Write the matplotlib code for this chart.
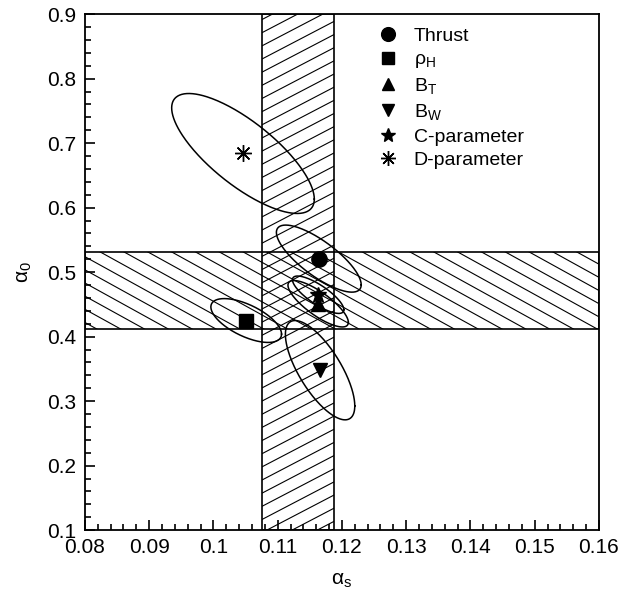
import numpy as np
import matplotlib
matplotlib.use("Agg")
import matplotlib.pyplot as plt
from matplotlib.collections import LineCollection
from matplotlib.ticker import MultipleLocator

plt.rcParams['font.family'] = 'Liberation Sans'
plt.rcParams['font.size'] = 14
plt.rcParams['mathtext.fontset'] = 'custom'
plt.rcParams['mathtext.rm'] = 'Liberation Sans'
plt.rcParams['mathtext.it'] = 'Liberation Sans:italic'

# fit results: alpha_s, alpha_0, errors and correlation of the 1-sigma contours
labels = ['Thrust', r'$\mathrm{\rho_H}$', r'$\mathrm{B_T}$', r'$\mathrm{B_W}$',
          'C-parameter', 'D-parameter']
markers = ['o', 's', '^', 'v', '*', (8, 2, 0)]
alpha_s = [0.1164, 0.1051, 0.1163, 0.1166, 0.1163, 0.1046]
alpha_0 = [0.521, 0.425, 0.451, 0.348, 0.465, 0.684]
err_s = [0.0066, 0.0055, 0.0047, 0.0054, 0.0040, 0.0111]
err_0 = [0.052, 0.034, 0.036, 0.077, 0.029, 0.093]
corr = [-0.78, -0.62, -0.80, -0.72, -0.80, -0.76]

# world averages (hatched bands)
band_s = [0.1075, 0.1188]
band_0 = [0.412, 0.532]


def hatch_band(ax, patch, slope):
    # diagonal hatch lines drawn in axes coords, clipped to the band
    segs = []
    for c in np.arange(-1.0, 2.0, 0.0255):
        segs.append([(0, c), (1, c + slope)])
    lc = LineCollection(segs, colors='k', linewidths=0.8, transform=ax.transAxes)
    ax.add_collection(lc)
    lc.set_clip_path(patch)


fig, ax = plt.subplots(figsize=(6.2, 5.91), dpi=100)
fig.subplots_adjust(left=0.137, right=0.966, top=0.976, bottom=0.103)

vb = ax.axvspan(band_s[0], band_s[1], fill=False, edgecolor='k', lw=1.2)
hb = ax.axhspan(band_0[0], band_0[1], fill=False, edgecolor='k', lw=1.2)
hatch_band(ax, vb, 0.52)
hatch_band(ax, hb, -0.55)

t = np.linspace(0, 2 * np.pi, 300)
for i in range(len(labels)):
    phi = np.arccos(corr[i])
    ex = alpha_s[i] + err_s[i] * np.cos(t)
    ey = alpha_0[i] + err_0[i] * np.cos(t - phi)
    ax.plot(ex, ey, color='k', lw=1.1, zorder=3)

sizes = [11, 10, 10, 10, 12, 12]
for i in range(len(labels)):
    ax.plot(alpha_s[i], alpha_0[i], ls='none', marker=markers[i], ms=sizes[i],
            color='k', mec='k', mew=1.0, label=labels[i], zorder=4)

ax.set_xlim(0.08, 0.16)
ax.set_ylim(0.1, 0.9)
ax.xaxis.set_major_locator(MultipleLocator(0.01))
ax.xaxis.set_minor_locator(MultipleLocator(0.002))
ax.yaxis.set_major_locator(MultipleLocator(0.1))
ax.yaxis.set_minor_locator(MultipleLocator(0.02))
ax.set_xticklabels([f'{v:g}' for v in ax.get_xticks()])
ax.set_yticklabels([f'{v:g}' for v in ax.get_yticks()])
ax.tick_params(which='both', direction='in', top=False, right=False, width=1.2)
ax.tick_params(which='major', length=7, labelsize=15, pad=6)
ax.tick_params(which='minor', length=4)
for s in ax.spines.values():
    s.set_linewidth(1.3)

ax.set_xlabel(r'$\mathrm{\alpha_s}$', fontsize=15, labelpad=10)
ax.set_ylabel(r'$\mathrm{\alpha_0}$', fontsize=15, labelpad=10)

ax.legend(loc='upper left', bbox_to_anchor=(0.545, 0.997), frameon=False,
          labelspacing=0.3, handletextpad=0.7, handlelength=1.2,
          borderaxespad=0.2, fontsize=14, markerscale=0.9)

plt.savefig('out.png', dpi=100)
